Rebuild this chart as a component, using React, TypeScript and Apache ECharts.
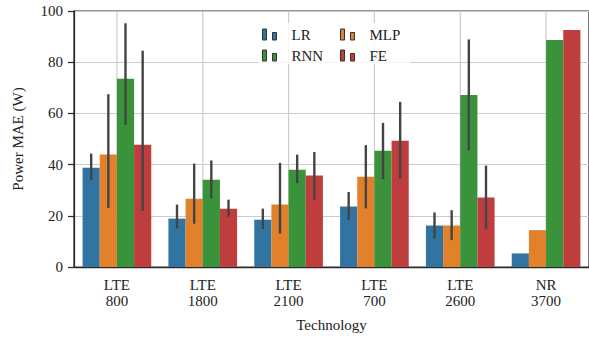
import React, { useEffect, useRef } from "react";
import * as echarts from "echarts";

const categories = ["LTE\n800", "LTE\n1800", "LTE\n2100", "LTE\n700", "LTE\n2600", "NR\n3700"];
const seriesNames = ["LR", "MLP", "RNN", "FE"];
const colors = ["#3274a1", "#e1812c", "#3a923a", "#c03d3e"];

const lr = [38.8, 18.9, 18.5, 23.6, 16.2, 5.3];
const mlp = [43.9, 26.7, 24.4, 35.3, 16.2, 14.4];
const rnn = [73.5, 34.1, 38.0, 45.4, 67.2, 88.7];
const fe = [47.8, 22.8, 35.7, 49.3, 27.1, 92.6];

const lrLow = [33.9, 15.0, 14.8, 18.3, 11.1, null];
const lrHigh = [44.3, 24.4, 22.8, 29.3, 21.3, null];
const mlpLow = [23.1, 16.9, 13.0, 22.9, 10.5, null];
const mlpHigh = [67.5, 40.4, 40.7, 47.6, 22.2, null];
const rnnLow = [55.5, 26.8, 32.7, 34.3, 45.5, null];
const rnnHigh = [95.2, 41.6, 43.9, 56.3, 88.9, null];
const feLow = [21.9, 19.7, 26.1, 34.5, 14.9, null];
const feHigh = [84.5, 26.3, 44.9, 64.5, 39.6, null];

const yTicks = [0, 20, 40, 60, 80, 100];

const FONT = "'Liberation Serif', 'DejaVu Serif', serif";
const TXT = "#222222";

export default function App() {
  const ref = useRef<HTMLDivElement>(null);
  useEffect(() => {
    if (!ref.current) return;
    const chart = echarts.init(ref.current, undefined, { renderer: "svg" });
    const values = [lr, mlp, rnn, fe];
    const lows = [lrLow, mlpLow, rnnLow, feLow];
    const highs = [lrHigh, mlpHigh, rnnHigh, feHigh];
    const errData: any[] = [];
    lows.forEach((lo, s) => {
      lo.forEach((l, c) => {
        const h = highs[s][c];
        if (l != null && h != null) errData.push([c, s, l, h]);
      });
    });
    const barSeries = seriesNames.map((name, s) => ({
      name,
      type: "bar",
      data: values[s],
      barGap: "0%",
      barCategoryGap: "20%",
      itemStyle: { color: colors[s] },
      z: 2,
    }));
    const icon = "path://M0,0h4v11h-4z M10,3.5h4v7.5h-4z";
    const legendCommon = {
      orient: "vertical",
      top: 26,
      itemWidth: 14,
      itemHeight: 11,
      itemGap: 4,
      icon,
      itemStyle: { borderColor: "#333", borderWidth: 1 },
      textStyle: { fontFamily: FONT, fontSize: 15, color: TXT, padding: [0, 0, 0, 10], lineHeight: 17 },
      padding: 0,
      z: 5,
    };
    chart.setOption({
      animation: false,
      backgroundColor: "#ffffff",
      textStyle: { fontFamily: FONT },
      grid: {
        left: 74,
        top: 11,
        width: 521,
        bottom: 70,
        show: true,
        borderColor: "#2a2a2a",
        borderWidth: 1.25,
        backgroundColor: "transparent",
      },
      legend: [
        { ...legendCommon, left: 262, data: ["LR", "RNN"] },
        { ...legendCommon, left: 340, data: ["MLP", "FE"] },
      ],
      graphic: [
        {
          type: "rect",
          shape: { x: 258, y: 23, width: 152, height: 41 },
          style: { fill: "rgba(255,255,255,0.82)" },
          z: 3,
          silent: true,
        },
      ],
      xAxis: {
        type: "category",
        data: categories,
        name: "Technology",
        nameLocation: "middle",
        nameGap: 50,
        nameTextStyle: { fontFamily: FONT, fontSize: 15, color: TXT },
        axisLine: { lineStyle: { color: "#2a2a2a", width: 1.25 } },
        axisTick: { alignWithLabel: true, length: 6, lineStyle: { color: "#2a2a2a", width: 1.25 } },
        axisLabel: { fontFamily: FONT, fontSize: 15, color: TXT, margin: 10, lineHeight: 16 },
        splitLine: { show: false },
      },
      yAxis: {
        type: "value",
        min: yTicks[0],
        max: yTicks[yTicks.length - 1],
        interval: 20,
        name: "Power MAE (W)",
        nameLocation: "middle",
        nameGap: 49,
        nameTextStyle: { fontFamily: FONT, fontSize: 15, color: TXT },
        axisLine: { show: true, lineStyle: { color: "#2a2a2a", width: 1.25 } },
        axisTick: { show: true, length: 6, lineStyle: { color: "#2a2a2a", width: 1.25 } },
        axisLabel: { fontFamily: FONT, fontSize: 15, color: TXT, margin: 11 },
        splitLine: { show: true, lineStyle: { color: "#cccccc", width: 1.2 } },
      },
      series: [
        {
          type: "custom",
          name: "vgrid",
          silent: true,
          z: 0,
          data: categories.map((_, i) => [i, 0]),
          encode: { x: 0, y: 1 },
          renderItem: (params: any, api: any) => {
            const cs = params.coordSys;
            const x = api.coord([api.value(0), 0])[0];
            return {
              type: "line",
              shape: { x1: x, y1: cs.y, x2: x, y2: cs.y + cs.height },
              style: { stroke: "#cccccc", lineWidth: 1.2 },
            };
          },
        },
        ...barSeries,
        {
          type: "custom",
          name: "err",
          silent: true,
          z: 3,
          data: errData,
          encode: { x: 0, y: [2, 3] },
          renderItem: (params: any, api: any) => {
            const c = api.value(0);
            const s = api.value(1);
            const catW = api.size([1, 0])[0];
            const off = (s - 1.5) * catW * 0.2;
            const p1 = api.coord([c, api.value(2)]);
            const p2 = api.coord([c, api.value(3)]);
            return {
              type: "line",
              shape: { x1: p1[0] + off, y1: p1[1], x2: p2[0] + off, y2: p2[1] },
              style: { stroke: "#444444", lineWidth: 2.4 },
            };
          },
        },
      ],
    });
    return () => chart.dispose();
  }, []);
  return (
    <div
      ref={ref}
      style={{ position: "absolute", left: 0, top: 0, width: 589, height: 337, background: "#fff" }}
    />
  );
}
